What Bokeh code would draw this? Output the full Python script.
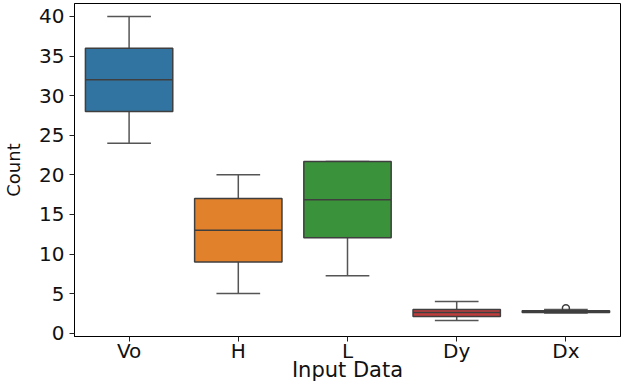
from bokeh.plotting import figure
from bokeh.models import FactorRange, Range1d, FixedTicker, ColumnDataSource
from bokeh.embed import file_html
from bokeh.resources import INLINE

categories = ["Vo", "H", "L", "Dy", "Dx"]
whisker_lo = [24.0, 5.0, 7.25, 1.6, 2.55]
q1 = [28.0, 9.0, 12.05, 2.1, 2.6]
median = [32.0, 13.0, 16.85, 2.6, 2.7]
q3 = [36.0, 17.0, 21.7, 3.0, 2.85]
whisker_hi = [40.0, 20.0, 21.7, 4.0, 3.0]
outlier_cat = ["Dx"]
outlier_val = [3.15]
colors = ["#3274a1", "#e1812c", "#3a923a", "#c03d3e", "#9372b2"]
y_ticks = [0, 5, 10, 15, 20, 25, 30, 35, 40]

FONT = "DejaVu Sans"
EDGE = "#3f3f3f"
WHISK = "#555555"

p = figure(width=628, height=384, output_backend="svg", toolbar_location=None,
           x_range=FactorRange(factors=categories),
           y_range=Range1d(-0.417, 41.64),
           min_border_left=71, min_border_right=8, min_border_top=3, min_border_bottom=48)

p.xgrid.visible = False
p.ygrid.visible = False
p.outline_line_color = "black"
p.outline_line_width = 1
p.background_fill_color = "white"
p.border_fill_color = "white"

src = ColumnDataSource(dict(
    x=categories, lo=whisker_lo, q1=q1, med=median, q3=q3, hi=whisker_hi, color=colors,
    xl=[(c, -0.4) for c in categories], xr=[(c, 0.4) for c in categories],
    cl=[(c, -0.2) for c in categories], cr=[(c, 0.2) for c in categories],
))

# whiskers
p.segment(x0="x", y0="q3", x1="x", y1="hi", source=src, line_color=WHISK, line_width=1.5)
p.segment(x0="x", y0="lo", x1="x", y1="q1", source=src, line_color=WHISK, line_width=1.5)
# caps
p.segment(x0="cl", y0="hi", x1="cr", y1="hi", source=src, line_color=WHISK, line_width=1.5)
p.segment(x0="cl", y0="lo", x1="cr", y1="lo", source=src, line_color=WHISK, line_width=1.5)
# boxes
p.vbar(x="x", top="q3", bottom="q1", width=0.8, source=src, fill_color="color",
       line_color=EDGE, line_width=1.5)
# medians
p.segment(x0="xl", y0="med", x1="xr", y1="med", source=src, line_color=EDGE, line_width=1.5)
# outliers
p.scatter(x=outlier_cat, y=outlier_val, marker="circle", size=7, fill_color=None,
          line_color=EDGE, line_width=1.5)

for ax in (p.xaxis[0], p.yaxis[0]):
    ax.axis_line_color = "black"
    ax.major_tick_line_color = "#222222"
    ax.major_tick_out = 5
    ax.major_tick_in = 0
    ax.minor_tick_line_color = None
    ax.major_label_text_font = FONT
    ax.major_label_text_font_size = "20px"
    ax.major_label_text_color = "#111111"
    ax.axis_label_text_font = FONT
    ax.axis_label_text_font_style = "normal"
    ax.axis_label_text_color = "#111111"

p.yaxis[0].ticker = FixedTicker(ticks=y_ticks)
p.yaxis[0].major_label_standoff = 5
p.yaxis[0].axis_label = "Count"
p.yaxis[0].axis_label_text_font_size = "18px"
p.yaxis[0].axis_label_standoff = 12

p.xaxis[0].major_label_standoff = -3
p.xaxis[0].axis_label = "Input Data"
p.xaxis[0].axis_label_text_font_size = "21px"
p.xaxis[0].axis_label_standoff = -8

open("out.html", "w").write(file_html(p, INLINE))
